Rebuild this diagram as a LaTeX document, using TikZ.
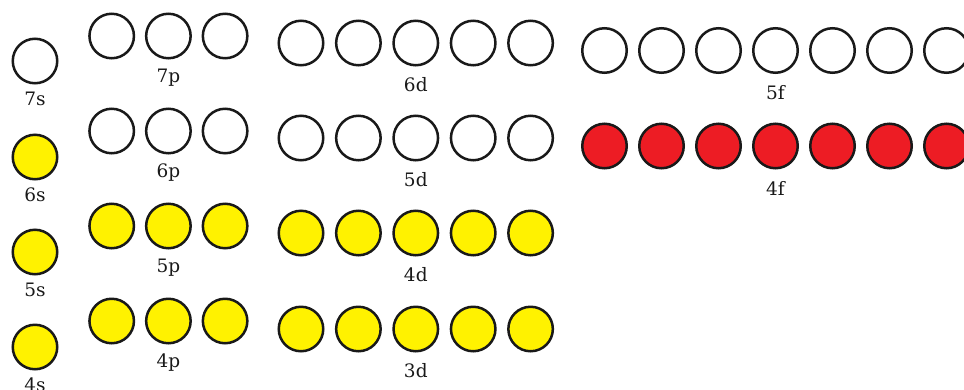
\documentclass[tikz,border=0pt]{standalone}
\usepackage{fontspec}
\setmainfont{DejaVu Serif}
\usetikzlibrary{positioning,calc}
\definecolor{orbYellow}{HTML}{FFF200}
\definecolor{orbRed}{HTML}{ED1C24}
\tikzset{orbEmpty/.style={circle,draw=black!90,line width=2.5pt,fill=white,minimum size=44.5pt,inner sep=0pt},
		orbFull/.style={orbEmpty,fill=orbYellow},
		orbHot/.style={orbEmpty,fill=orbRed},
		shellLabel/.style={anchor=base,inner sep=0pt,text=black!90,font=\fontsize{18.5}{21}\selectfont}}
\begin{document}
\begin{tikzpicture}[x=1pt,y=-1pt]
		\useasboundingbox (0,0) rectangle (964,389);
		% s orbitals
		\foreach \n/\y/\st in {7/61/orbEmpty,6/157/orbFull,5/252/orbFull,4/347/orbFull}{
			\node at (35,\y) [\st] (\n s){};
			\node at ($(\n s)+(0,44)$) [shellLabel] (l\n s){\n s};
		}
		% p orbitals
		\foreach \n/\y/\st in {7/36/orbEmpty,6/131/orbEmpty,5/226/orbFull,4/321/orbFull}{
			\foreach \k in {1,...,3}
				\node at ({111.7+56.7*(\k-1)},\y) [\st] (\n p\k){};
			\node at ($(\n p2)+(0,46)$) [shellLabel] (l\n p){\n p};
		}
		% d orbitals
		\foreach \n/\y/\st in {6/43/orbEmpty,5/138/orbEmpty,4/233/orbFull,3/329/orbFull}{
			\foreach \k in {1,...,5}
				\node at ({301+57.4*(\k-1)},\y) [\st] (\n d\k){};
			\node at ($(\n d3)+(0,48.5)$) [shellLabel] (l\n d){\n d};
		}
		% f orbitals
		\foreach \n/\y/\st in {5/50.5/orbEmpty,4/146/orbHot}{
			\foreach \k in {1,...,7}
				\node at ({604.5+57*(\k-1)},\y) [\st] (\n f\k){};
			\node at ($(\n f4)+(0,49)$) [shellLabel] (l\n f){\n f};
		}
\end{tikzpicture}
\end{document}
